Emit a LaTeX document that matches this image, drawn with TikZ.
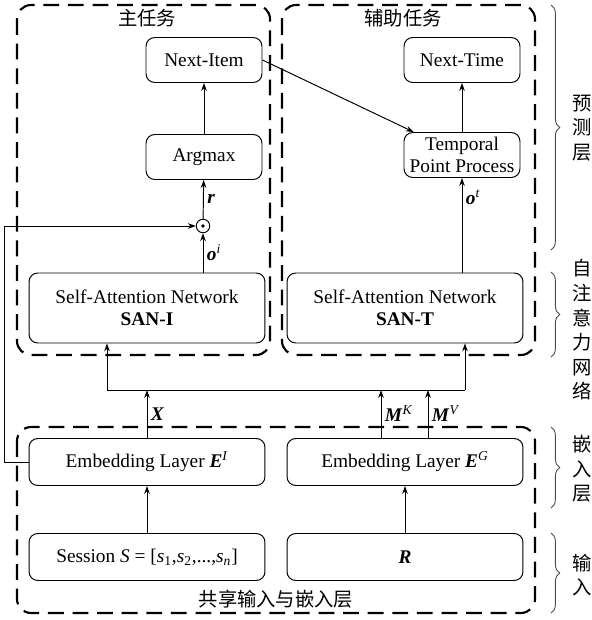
\documentclass[tikz,border=0pt]{standalone}
\usepackage{fontspec}
\setmainfont{Liberation Serif}
\newfontfamily\zhfont{Noto Sans CJK SC}
\usetikzlibrary{arrows.meta,decorations.pathreplacing}
\tikzstyle{every picture}=[x=0.02cm, y=-0.02cm, line width=0.55pt,%
	>={Stealth[length=4.5pt,width=3.2pt]}]
\tikzstyle{block}=[draw, rounded corners=5pt, align=center, inner sep=2pt,%
	font=\fontsize{11}{12.5}\selectfont]
\tikzstyle{wide}=[block, minimum width=4.72cm, minimum height=0.94cm]
\tikzstyle{small}=[block, minimum width=2.32cm, minimum height=0.9cm]
\tikzstyle{taskbox}=[draw, line width=1.2pt, dash pattern=on 9pt off 5pt, rounded corners=8pt]
\tikzstyle{cjk}=[align=center, font=\zhfont\fontsize{11}{14}\selectfont]
\tikzstyle{sidebrace}=[decorate, decoration={brace, amplitude=5pt}, line width=0.5pt, black!70]
\tikzstyle{lbl}=[font=\fontsize{11}{12}\selectfont, inner sep=2pt]
\newcommand{\bv}[1]{\textbf{\textit{#1}}}

\begin{document}
\begin{tikzpicture}
	\useasboundingbox (0,0) rectangle (592,620);
	% dashed groups
	\draw[taskbox] (17,5) rectangle (270,355);
	\draw[taskbox] (282,5) rectangle (535,355);
	\draw[taskbox] (17,427) rectangle (535,613);
	\node[cjk] (main) at (147,18) {主任务};
	\node[cjk] (aux) at (403,18) {辅助任务};
	\node[cjk] (shared) at (276,599) {共享输入与嵌入层};

	\node[small] (item) at (204,60) {Next-Item};
	\node[small] (argmax) at (204,157) {Argmax};
	\node[circle, draw, minimum size=0.27cm, inner sep=0pt] (odot) at (203,226) {};
	\fill (odot.center) circle (1.1pt);
	\node[wide, minimum height=1.4cm] (sani) at (147,308) {Self-Attention Network\\\textbf{SAN-I}};

	\node[small] (time) at (462,60) {Next-Time};
	\node[small, inner sep=1pt] (tpp) at (462,155) {Temporal\\Point Process};
	\node[wide, minimum height=1.4cm] (sant) at (405,308) {Self-Attention Network\\\textbf{SAN-T}};

	\node[wide] (ei) at (147,462) {Embedding Layer \bv{E}\textsuperscript{\textit{I}}};
	\node[wide] (eg) at (405,462) {Embedding Layer \bv{E}\textsuperscript{\textit{G}}};
	\node[wide] (sess) at (147,557) {Session \textit{S} = [\textit{s}\textsubscript{1},\textit{s}\textsubscript{2},...,\textit{s}\textsubscript{\textit{n}}]};
	\node[wide] (rr) at (405,557) {\bv{R}};

	\coordinate (b1) at (107,390);
	\coordinate (b2) at (465,390);
	\coordinate (mk) at (381,390);
	\coordinate (mv) at (428,390);

	\draw[->] (argmax) -- (item);
	\draw[->] (odot) -- (argmax) node[lbl, right, midway] {\bv{r}};
	\draw[->] (sani.north -| odot) -- (odot) node[lbl, right, midway] {\bv{o}\textsuperscript{\textit{i}}};
	\draw[->] (tpp) -- (time);
	\draw[->] (sant.north -| tpp) -- (tpp) node[lbl, right, pos=0.8] {\bv{o}\textsuperscript{\textit{t}}};
	\draw[->] (item.east) -- (tpp);

	\draw (b1) -- (b2);
	\draw[->] (b1) -- (b1 |- sani.south);
	\draw[->] (b2) -- (b2 |- sant.south);
	\draw[->] (ei) -- (ei |- b1) node[lbl, right, midway] {\bv{X}};
	\draw[->] (mk |- eg.north) -- (mk) node[lbl, right, midway] {\bv{M}\textsuperscript{\textit{K}}};
	\draw[->] (mv |- eg.north) -- (mv) node[lbl, right, midway] {\bv{M}\textsuperscript{\textit{V}}};
	\draw[->] (sess) -- (ei);
	\draw[->] (rr) -- (eg);
	\draw[->] (ei.west) -- ++(-24,0) |- (odot.west);

	% layer braces
	\draw[sidebrace] (551,5) -- (551,250);
	\draw[sidebrace] (551,272) -- (551,357);
	\draw[sidebrace] (551,427) -- (551,508);
	\draw[sidebrace] (551,533) -- (551,613);
	\node[cjk] (l1) at (582,128) {预\\测\\层};
	\node[cjk] (l2) at (582,330) {自\\注\\意\\力\\网\\络};
	\node[cjk] (l3) at (582,469) {嵌\\入\\层};
	\node[cjk] (l4) at (582,575) {输\\入};
\end{tikzpicture}
\end{document}
